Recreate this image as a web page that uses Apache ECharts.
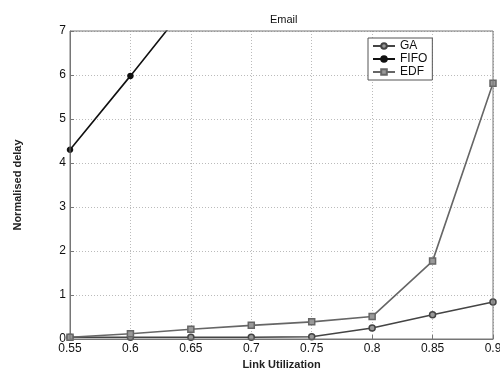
<!DOCTYPE html>
<html>
<head>
<meta charset="utf-8">
<script src="https://cdn.jsdelivr.net/npm/echarts@6/dist/echarts.min.js"></script>
<style>
  html, body { margin: 0; padding: 0; background: #fff; }
  #chart { width: 500px; height: 369px; }
</style>
</head>
<body>
<div id="chart"></div>
<script>
const utilization = ["0.55", "0.6", "0.65", "0.7", "0.75", "0.8", "0.85", "0.9"];
const gaDelay = [0.04, 0.04, 0.04, 0.04, 0.05, 0.25, 0.55, 0.84];
const fifoDelay = [4.3, 5.98, 7.7, null, null, null, null, null];
const edfDelay = [0.04, 0.12, 0.22, 0.31, 0.39, 0.51, 1.77, 5.81];
const yTicks = [0, 1, 2, 3, 4, 5, 6, 7];

const font = "Liberation Sans";
const chart = echarts.init(document.getElementById("chart"));

function lineSeries(name, data, color, symbol, size, filled) {
  return {
    name: name,
    type: "line",
    data: data,
    symbol: symbol,
    symbolSize: size,
    showSymbol: true,
    connectNulls: false,
    clip: true,
    lineStyle: { color: color, width: 1.6 },
    itemStyle: {
      color: filled ? color : "#999",
      borderColor: color,
      borderWidth: 1.5,
    },
    animation: false,
  };
}

chart.setOption({
  animation: false,
  title: {
    text: "Email",
    left: 265,
    top: 9,
    textStyle: { fontFamily: font, fontSize: 11, fontWeight: "normal", color: "#111" },
  },
  legend: {
    left: 368,
    top: 38,
    orient: "vertical",
    itemWidth: 22,
    itemHeight: 7,
    itemGap: 1,
    padding: [2, 5, 2, 4],
    borderColor: "#555",
    borderWidth: 1,
    backgroundColor: "#fff",
    textStyle: { fontFamily: font, fontSize: 12, color: "#111" },
    data: ["GA", "FIFO", "EDF"],
  },
  grid: { left: 70, right: 7, top: 31, bottom: 30, containLabel: false, outerBoundsMode: "none" },
  xAxis: {
    type: "category",
    data: utilization,
    boundaryGap: false,
    name: "Link Utilization",
    nameLocation: "middle",
    nameGap: 18,
    nameTextStyle: { fontFamily: font, fontSize: 11, fontWeight: "bold", color: "#222" },
    axisLine: { lineStyle: { color: "#777", width: 1 } },
    axisTick: { inside: true, length: 4, lineStyle: { color: "#777" } },
    axisLabel: { fontFamily: font, fontSize: 12, color: "#111", margin: 4 },
    splitLine: { show: true, lineStyle: { color: "#bbb", type: [1, 2], width: 1 } },
  },
  yAxis: {
    type: "value",
    min: yTicks[0],
    max: yTicks[yTicks.length - 1],
    interval: 1,
    name: "Normalised delay",
    nameLocation: "middle",
    nameRotate: 90,
    nameGap: 47,
    nameTextStyle: { fontFamily: font, fontSize: 11, fontWeight: "bold", color: "#222" },
    axisLine: { show: true, lineStyle: { color: "#777", width: 1 } },
    axisTick: { show: true, inside: true, length: 4, lineStyle: { color: "#777" } },
    axisLabel: { fontFamily: font, fontSize: 12, color: "#111", margin: 4 },
    splitLine: { show: true, lineStyle: { color: "#bbb", type: [1, 2], width: 1 } },
  },
  series: [
    lineSeries("GA", gaDelay, "#444", "circle", 6, false),
    lineSeries("FIFO", fifoDelay, "#111", "circle", 5, true),
    lineSeries("EDF", edfDelay, "#666", "rect", 6, false),
  ],
  graphic: [
    {
      type: "rect",
      shape: { x: 70, y: 31, width: 423, height: 308 },
      style: { fill: "none", stroke: "#777", lineWidth: 1 },
      silent: true,
      z: 10,
    },
  ],
});
</script>
</body>
</html>
